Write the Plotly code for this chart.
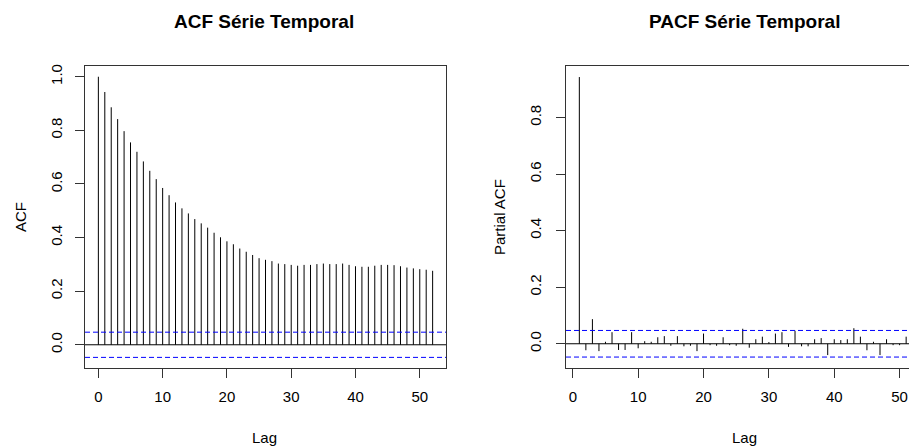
import plotly.graph_objects as go

acf_lags = list(range(0, 53))
acf_vals = [1.0, 0.943, 0.886, 0.842, 0.797, 0.755, 0.720, 0.684, 0.649, 0.618,
            0.585, 0.558, 0.531, 0.509, 0.490, 0.469, 0.453, 0.437, 0.418, 0.401,
            0.386, 0.375, 0.359, 0.347, 0.335, 0.323, 0.317, 0.312, 0.303, 0.301,
            0.298, 0.295, 0.298, 0.298, 0.301, 0.303, 0.301, 0.301, 0.303, 0.298,
            0.293, 0.291, 0.291, 0.295, 0.298, 0.298, 0.297, 0.293, 0.288, 0.285,
            0.282, 0.280, 0.276]

pacf_lags = list(range(1, 53))
pacf_vals = [0.943, -0.023, 0.087, -0.026, 0.007, 0.041, -0.022, -0.022, 0.041, -0.016,
             0.009, 0.007, 0.023, 0.027, -0.007, 0.027, -0.009, -0.007, -0.026, 0.036,
             -0.005, -0.007, 0.023, -0.005, -0.007, 0.053, -0.014, 0.016, 0.025, 0.006,
             0.036, 0.041, -0.011, 0.046, -0.009, -0.009, 0.016, 0.020, -0.040, 0.016,
             0.013, 0.016, 0.055, 0.025, -0.023, 0.007, -0.040, 0.016, -0.005, -0.005,
             0.025, 0.002]

conf = 0.047
titles = ["ACF Série Temporal", "PACF Série Temporal"]
ylabels = ["ACF", "Partial ACF"]

# the page body has an 8px margin, so the figure starts at (8, 8)
OFF = 8
W, H = 917 - OFF, 448 - OFF
FONT = "Liberation Sans, Arial, sans-serif"


def px(x):
    return (x - OFF) / W


def py(y):
    return 1 - (y - OFF) / H


def stems(lags, vals):
    xs, ys = [], []
    for k, v in zip(lags, vals):
        xs += [k, k, None]
        ys += [0, v, None]
    return xs, ys


fig = go.Figure()

for i, (lags, vals) in enumerate([(acf_lags, acf_vals), (pacf_lags, pacf_vals)]):
    xs, ys = stems(lags, vals)
    ax = "" if i == 0 else "2"
    fig.add_trace(go.Scatter(x=xs, y=ys, mode="lines", xaxis="x" + ax, yaxis="y" + ax,
                             line=dict(color="black", width=1), hoverinfo="skip",
                             showlegend=False))
    for yv, col, dash in [(0, "black", "solid"), (conf, "blue", "5px,3px"), (-conf, "blue", "5px,3px")]:
        fig.add_shape(type="line", xref="x" + ax + " domain", yref="y" + ax,
                      x0=0, x1=1, y0=yv, y1=yv,
                      line=dict(color=col, width=1, dash=dash))

axis_common = dict(showline=True, linecolor="#333333", linewidth=1, ticks="outside",
                   ticklen=9, tickcolor="#333333", showgrid=False, zeroline=False,
                   tickfont=dict(family=FONT, size=15, color="black"))

fig.update_layout(
    width=W, height=H, autosize=False,
    margin=dict(l=0, r=0, t=0, b=0),
    plot_bgcolor="white", paper_bgcolor="white",
    xaxis=dict(domain=[px(85), px(446)], range=[-2.08, 54.08], tickvals=[0, 10, 20, 30, 40, 50],
               mirror=True, anchor="y", ticklabelstandoff=6, **axis_common),
    yaxis=dict(domain=[py(368), py(64)], range=[-0.088, 1.041], tickvals=[0, 0.2, 0.4, 0.6, 0.8, 1.0],
               tickformat=".1f", tickangle=-90, mirror=True, anchor="x", ticklabelstandoff=7, **axis_common),
    xaxis2=dict(domain=[px(566), 1.0], range=[-1.04, 52.66], tickvals=[0, 10, 20, 30, 40, 50],
                mirror=True, anchor="y2", ticklabelstandoff=6, **axis_common),
    yaxis2=dict(domain=[py(368), py(64)], range=[-0.087, 0.983], tickvals=[0, 0.2, 0.4, 0.6, 0.8],
                tickformat=".1f", tickangle=-90, mirror=False, anchor="x2", ticklabelstandoff=9, **axis_common),
)

annots = [
    dict(text="<b>" + titles[0] + "</b>", x=px(264), y=py(20), size=19, angle=0),
    dict(text="<b>" + titles[1] + "</b>", x=px(744), y=py(20), size=19, angle=0),
    dict(text="Lag", x=px(264), y=py(437), size=15, angle=0),
    dict(text="Lag", x=px(744), y=py(437), size=15, angle=0),
    dict(text=ylabels[0], x=px(20), y=py(216), size=15, angle=-90),
    dict(text=ylabels[1], x=px(499), y=py(216), size=15, angle=-90),
]
for a in annots:
    fig.add_annotation(text=a["text"], x=a["x"], y=a["y"], xref="paper", yref="paper",
                       xanchor="center", yanchor="middle", showarrow=False, textangle=a["angle"],
                       font=dict(family=FONT, size=a["size"], color="black"))

fig.write_html("out.html")
